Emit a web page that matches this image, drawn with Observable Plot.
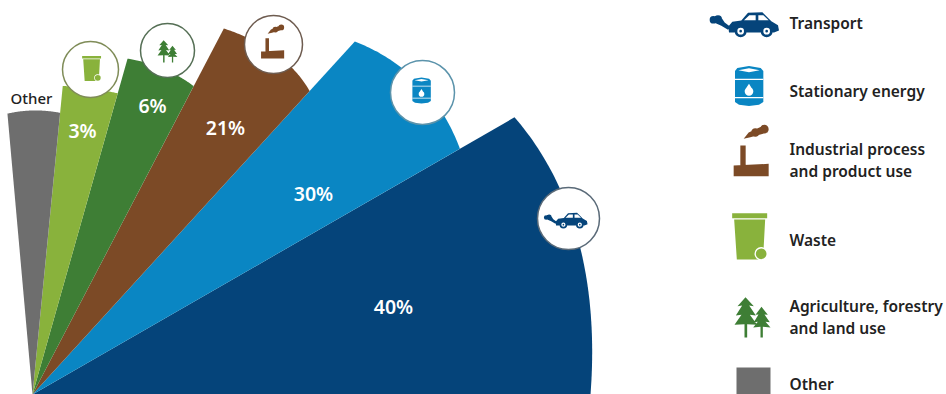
<!DOCTYPE html>
<html>
<head>
<meta charset="utf-8">
<script src="https://cdn.jsdelivr.net/npm/d3@7"></script>
<script src="https://cdn.jsdelivr.net/npm/@observablehq/plot@0.6"></script>
<style>
  html, body { margin: 0; padding: 0; background: #fff; }
  svg { display: block; }
</style>
</head>
<body>
<div id="chart"></div>
<script>
// Sector names, in drawing order clockwise from the baseline
const order   = ["Transport", "Stationary energy", "Industrial process and product use", "Agriculture, forestry and land use", "Waste", "Other"];
const colors  = ["#05447a", "#0a86c3", "#7c4a26", "#3e7e35", "#89b23c", "#6e6e6e"];

// Outer edge as [angle in degrees, radius in px]
const edges = [
  [[0, 558], [14.7, 567], [21.7, 566], [29.9, 556]],
  [[29.9, 493], [33.9, 497], [42, 492], [47.6, 478]],
  [[47.6, 411], [51.3, 417], [59.6, 416], [62.4, 413]],
  [[62.4, 348], [68, 351], [74.2, 349]],
  [[74.2, 313], [84.4, 310]],
  [[84.4, 283], [90, 284], [95.1, 282]]
];
const origin = [32, 394];

// A smooth curve through the read-off edge points
const smooth = e => a => d3.sum(e, (p, i) =>
  e.reduce((w, q, j) => j === i ? w : w * (a - q[0]) / (p[0] - q[0]), p[1]));

const wedgePoints = order.flatMap((name, i) => {
  const e = edges[i];
  const radius = smooth(e);
  const a0 = e[0][0], a1 = e[e.length - 1][0];
  const pts = [{name, x: origin[0], y: origin[1]}];
  d3.range(0, 61).forEach(j => {
    const deg = a0 + (a1 - a0) * j / 60;
    const t = deg * Math.PI / 180, r = radius(deg);
    pts.push({name, x: origin[0] + r * Math.cos(t), y: origin[1] - r * Math.sin(t)});
  });
  pts.push({name, x: origin[0], y: origin[1]});
  return pts;
});

// Percentage labels and the "Other" tag
const labels = [
  {t: "40%", x: 393, y: 307}, {t: "30%", x: 313, y: 194}, {t: "21%", x: 225, y: 128},
  {t: "6%", x: 152, y: 106}, {t: "3%", x: 82, y: 131}
];
const otherTag = [{t: "Other", x: 31, y: 99}];

// Round badges
const badges = [
  {icon: "car",     x: 568, y: 218, r: 31, stroke: "#5a6a78", ix: 565, iy: 220, k: 0.63},
  {icon: "barrel",  x: 422, y: 92,  r: 32, stroke: "#5b93ab", ix: 421, iy: 90,  k: 0.65},
  {icon: "factory", x: 273, y: 44,  r: 29, stroke: "#6e5c50", ix: 272, iy: 41,  k: 0.66},
  {icon: "trees",   x: 167, y: 50,  r: 27, stroke: "#556f55", ix: 167, iy: 51,  k: 0.55},
  {icon: "bin",     x: 90,  y: 69,  r: 28, stroke: "#7f8c58", ix: 91,  iy: 68,  k: 0.54}
];

// Legend
const legendText = [
  {t: "Transport", y: 24}, {t: "Stationary energy", y: 92},
  {t: "Industrial process", y: 149.5}, {t: "and product use", y: 171.5},
  {t: "Waste", y: 240.5}, {t: "Agriculture, forestry", y: 306.5},
  {t: "and land use", y: 328.5}, {t: "Other", y: 384.5}
];
const legendIcons = [
  {icon: "car", x: 743.5, y: 24}, {icon: "barrel", x: 748.5, y: 85.5},
  {icon: "factory", x: 750.5, y: 150}, {icon: "bin", x: 749, y: 236},
  {icon: "trees", x: 752, y: 317}, {icon: "square", x: 753, y: 384}
];

// Pictogram drawing helpers: coordinates are in a 3x grid about the glyph centre
const poly = pts => (c, k, cx, cy) => pts.forEach((p, i) => {
  const X = (p[0] - cx) / 3 * k, Y = (p[1] - cy) / 3 * k;
  i ? c.lineTo(X, Y) : c.moveTo(X, Y);
  if (i === pts.length - 1) c.closePath();
});
const circ = (x, y, r) => (c, k, cx, cy) => {
  const X = (x - cx) / 3 * k, Y = (y - cy) / 3 * k, R = r / 3 * k;
  c.moveTo(X + R, Y); c.arc(X, Y, R, 0, 2 * Math.PI); c.closePath();
};
const glyph = (cx, cy, parts) => ({draw(c, size) {
  const k = Math.sqrt(size / Math.PI);
  parts.forEach(f => f(c, k, cx, cy));
}});

const glyphs = {
  car: {cx: 160, cy: 68, color: colors[0], layers: [
    [circ(68,54,11), circ(82,52,12), poly([[70,62],[90,44],[102,62],[118,74],[112,84],[92,72]]),
     poly([[113,74],[125,60],[152,56],[172,33],[215,31],[242,58],[262,70],[265,86],[250,92],[115,92]]),
     circ(150,88,18), circ(228,88,18)],
    [poly([[160,55],[176,40],[195,40],[195,55]]), poly([[203,40],[218,40],[234,55],[203,55]]),
     circ(150,88,10), circ(228,88,10)],
    [circ(150,88,4), circ(228,88,4)]
  ]},
  barrel: {cx: 175, cy: 257, color: colors[1], layers: [
    [poly([[133,212],[140,203],[175,197],[210,203],[218,212],[218,305],[205,313],[175,317],[145,313],[133,305]])],
    [poly([[143,210],[175,204],[207,210],[175,216]]),
     poly([[133,235],[218,235],[218,239],[133,239]]), poly([[133,290],[218,290],[218,294],[133,294]]),
     poly([[175,250],[186,268],[162,270]]), circ(175,273,13)]
  ]},
  factory: {cx: 182, cy: 450, color: colors[2], layers: [
    [poly([[130,495],[235,490],[235,527],[130,527]]),
     poly([[150,435],[166,435],[166,497],[150,497]]),
     circ(222,386,13), circ(195,396,13), poly([[160,415],[175,396],[220,375],[232,396],[180,410]])]
  ]},
  bin: {cx: 175, cy: 108, color: colors[4], layers: [
    [poly([[123,38],[228,38],[228,53],[123,53]]), poly([[129,57],[222,57],[217,150],[205,177],[137,177]])],
    [circ(210,160,20)],
    [circ(210,160,16)]
  ]},
  trees: {cx: 186, cy: 352, color: colors[3], layers: [
    [poly([[165,291],[190,318],[176,316],[196,346],[178,344],[200,374],[170,372],[170,412],[162,412],[162,372],[132,374],[153,344],[136,346],[155,316],[141,318]]),
     poly([[213,320],[232,344],[222,343],[238,366],[225,365],[240,382],[217,380],[217,412],[210,412],[210,380],[188,382],[202,365],[190,366],[204,343],[195,344]])]
  ]},
  square: {cx: 0, cy: 0, color: colors[5], layers: [
    [(c) => { c.moveTo(-17, -17); c.lineTo(17, -17); c.lineTo(17, 17); c.lineTo(-17, 17); c.closePath(); }]
  ]}
};

const iconMarks = (rows, getX, getY, getK) => Object.entries(glyphs).flatMap(([name, g]) =>
  rows.filter(d => d.icon === name).flatMap(d =>
    g.layers.map((parts, i) =>
      Plot.dot([d], {
        x: getX, y: getY, r: getK(d),
        symbol: glyph(g.cx, g.cy, parts),
        fill: (i % 2 === 0) ? g.color : "#fff",
        stroke: "none"
      }))));

const font = "'Noto Sans', sans-serif";

const chart = Plot.plot({
  width: 946, height: 394,
  margin: 0,
  style: {background: "#fff", fontFamily: font},
  x: {domain: [0, 946], range: [0, 946], axis: null},
  y: {domain: [0, 394], range: [0, 394], axis: null},
  color: {domain: order, range: colors},
  marks: [
    Plot.line(wedgePoints, {x: "x", y: "y", z: "name", fill: "name", stroke: "none"}),
    ...badges.map(b => Plot.dot([b], {x: "x", y: "y", r: b.r, fill: "#fff", stroke: b.stroke, strokeWidth: 1.5})),
    ...iconMarks(badges, d => d.ix, d => d.iy, d => d.k),
    Plot.text(labels, {x: "x", y: "y", text: "t", fill: "#fff", fontSize: 19.5, fontWeight: 600}),
    Plot.text(otherTag, {x: "x", y: "y", text: "t", fill: "#222", fontSize: 15, fontWeight: 500}),
    ...iconMarks(legendIcons, d => d.x, d => d.y, () => 1),
    Plot.text(legendText, {x: () => 789, y: "y", text: "t", textAnchor: "start", fill: "#222", fontSize: 15.5, fontWeight: 600})
  ]
});
document.getElementById("chart").append(chart);
</script>
</body>
</html>
